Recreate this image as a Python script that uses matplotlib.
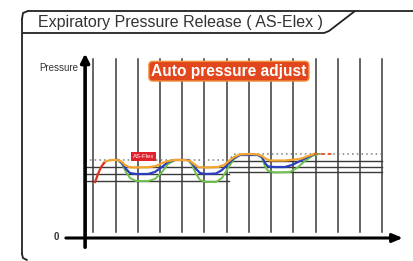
import matplotlib.pyplot as plt

# time axis: one unit per grid division, pressure axis in arbitrary units
grid_t = [1, 2, 3, 4, 5, 6, 7, 8, 9, 10, 11, 12, 13, 14]

# red start of the first breath
red_t = [1.08, 1.21, 1.35, 1.48]
red_p = [9.33, 10.67, 11.83, 12.5]

# orange: pressure with the smallest release
orange_t = [1.48, 1.61, 1.84, 2.11, 2.29, 2.42, 2.6, 2.87, 3.55, 3.82, 4.09, 4.36, 4.67,
            5.12, 5.35, 5.53, 5.71, 6.02, 6.61, 6.88, 7.1, 7.33, 7.6, 8.05, 8.41, 8.59,
            8.77, 8.95, 9.62, 10.3, 10.66, 10.93]
orange_p = [12.5, 12.83, 13.0, 13.0, 12.67, 12.17, 11.83, 11.75, 11.83, 12.0, 12.5, 12.83, 13.0,
            13.0, 12.83, 12.33, 11.83, 11.75, 11.83, 12.17, 12.83, 13.5, 13.92, 14.0, 13.92, 13.67,
            13.17, 12.92, 12.92, 13.17, 13.67, 14.0]
# red dashed tail after the last rise
tail_t = [10.93, 11.74]
tail_p = [14.0, 14.0]

blue_t = [2.11, 2.29, 2.47, 2.65, 2.92, 3.46, 3.77, 4.09, 4.36, 4.67, 5.26, 5.44, 5.62, 5.8,
          6.07, 6.52, 6.79, 7.06, 7.33, 7.6, 8.41, 8.59, 8.72, 8.86, 9.17, 9.62, 9.94, 10.3,
          10.66, 10.97]
blue_p = [13.0, 12.5, 11.5, 10.83, 10.67, 10.67, 11.0, 11.83, 12.67, 13.0, 13.0, 12.5, 11.5, 10.83,
          10.67, 10.75, 11.33, 12.33, 13.33, 13.83, 13.83, 13.5, 12.5, 11.92, 11.83, 11.83, 12.17, 12.83,
          13.5, 14.0]

green_t = [2.11, 2.29, 2.47, 2.65, 2.92, 3.46, 3.77, 4.09, 4.36, 4.67, 5.26, 5.44, 5.62, 5.8,
           6.07, 6.52, 6.79, 7.06, 7.33, 7.6, 8.41, 8.59, 8.72, 8.86, 9.17, 9.85, 10.16, 10.52,
           10.84, 11.11]
green_p = [13.0, 12.33, 11.0, 10.0, 9.5, 9.5, 9.83, 11.0, 12.33, 13.0, 13.0, 12.17, 10.67, 9.67,
           9.33, 9.33, 10.0, 11.67, 13.17, 13.83, 13.83, 13.33, 12.0, 11.17, 10.92, 11.0, 11.67, 12.83,
           13.67, 14.0]

# set pressure (dotted) and the three release levels, before and after the auto adjust
ipap_t = [0.63, 7.06, 7.37, 13.99]
ipap_p = [13.0, 13.0, 14.0, 14.0]
levels_left = [11.83, 10.67, 9.5]
levels_right = [12.9, 11.83, 11.0]
step_t = 7.1

fig = plt.figure(figsize=(4.14, 2.61), dpi=100)
fig.patch.set_facecolor('white')

# overlay in pixels for the frame and title tab
ov = fig.add_axes([0, 0, 1, 1])
ov.set_xlim(0, 414)
ov.set_ylim(261, 0)
ov.axis('off')
k = dict(color='#222222', lw=1.3, solid_capstyle='round')
ov.plot([28, 414], [11, 11], **k)
ov.plot([22, 23, 28], [19, 13, 11], **k)
ov.plot([22, 22], [19, 254], **k)
ov.plot([22, 23, 27], [254, 258, 260], **k)
ov.plot([23, 324, 329, 355], [33, 33, 31, 11], **k)
ov.text(38, 22.5, 'Expiratory Pressure Release ( AS-Elex )', fontsize=11.5,
        family='Liberation Sans', color='#333333', va='center', ha='left')

ax = fig.add_axes([0, 0, 1, 1])
ax.patch.set_alpha(0)
ax.set_xlim(-3.198, 15.425)
ax.set_ylim(-3.833, 39.667)
ax.axis('off')

for t in grid_t:
    ax.plot([t, t], [1.0, 29.8], color='#3a3a3a', lw=1.1)

for p in levels_left:
    ax.plot([0.63, step_t], [p, p], color='#3a3a3a', lw=1.0)
for p in levels_right:
    ax.plot([step_t, 13.99], [p, p], color='#3a3a3a', lw=1.0)

ax.plot(ipap_t, ipap_p, color='#777777', lw=1.0, ls=(0, (1.2, 2.2)))

ax.plot(green_t, green_p, color='#6cc24a', lw=1.4, zorder=3)
ax.plot(blue_t, blue_p, color='#2a3fbf', lw=1.6, zorder=4)
ax.plot(orange_t, orange_p, color='#f4a52e', lw=1.6, zorder=5)
ax.plot(red_t, red_p, color='#e0301e', lw=1.6, zorder=5)
ax.plot(tail_t, tail_p, color='#e8602a', lw=1.4, ls=(0, (2, 1.5)), zorder=5)

# axes arrows
ax.annotate('', xy=(0.63, 31.2), xytext=(0.63, -2.0),
            arrowprops=dict(arrowstyle='-|>,head_width=0.25,head_length=0.5', color='black', lw=2.6))
ax.annotate('', xy=(15.05, 0), xytext=(-0.36, 0),
            arrowprops=dict(arrowstyle='-|>,head_width=0.25,head_length=0.6', color='black', lw=2.2))

ax.text(0.31, 28.3, 'Pressure', fontsize=7, family='Liberation Sans', color='#333333',
        ha='right', va='center')
ax.text(-0.55, 0.1, '0', fontsize=7, family='Liberation Sans', color='#333333',
        ha='right', va='center', fontweight='bold')

ax.text(7.1, 27.8, 'Auto pressure adjust', fontsize=11.2, fontweight='bold', color='white',
        family='Liberation Sans', ha='center', va='center', zorder=6,
        bbox=dict(boxstyle='round,pad=0.15,rounding_size=0.25', fc='#e2461c', ec='#f09040', lw=1))
ax.text(3.26, 13.65, 'AS-Flex', fontsize=4.3, color='white', family='Liberation Sans',
        ha='center', va='center', zorder=6,
        bbox=dict(boxstyle='square,pad=0.35', fc='#e0202a', ec='none'))

fig.savefig('out.png', dpi=100)
